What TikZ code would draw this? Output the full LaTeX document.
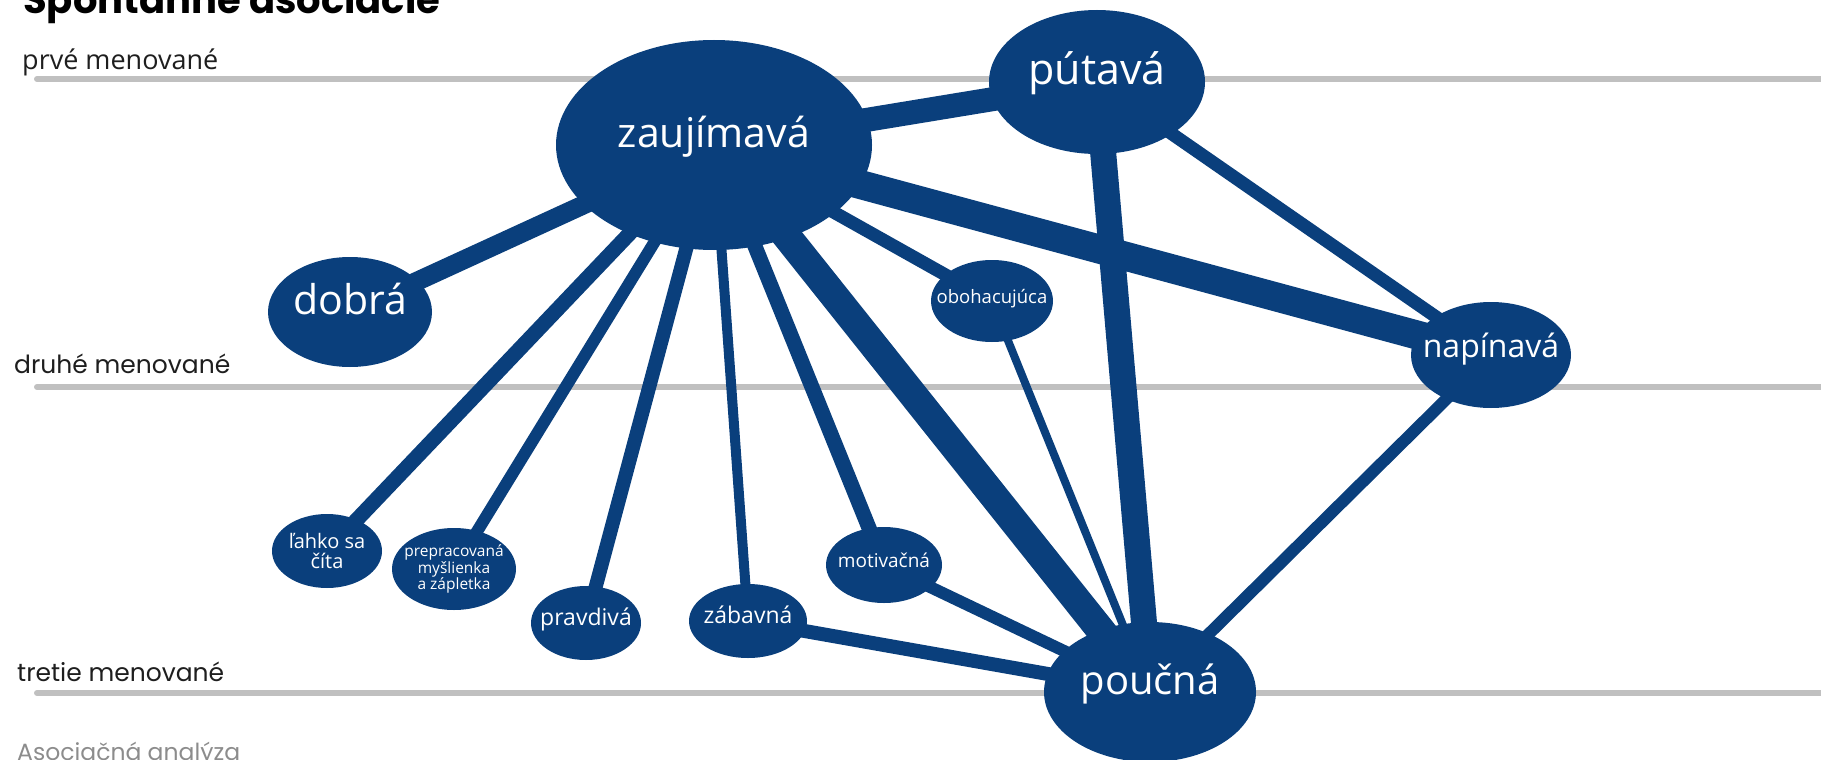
\documentclass[tikz,border=0pt]{standalone}
\usepackage{fontspec}
\setmainfont{Open Sans}
\newfontfamily\popp{Poppins}
\usetikzlibrary{shapes.geometric}
\definecolor{nodeblue}{RGB}{10,63,124}
\definecolor{gridgray}{RGB}{192,192,192}
\definecolor{labelgray}{RGB}{30,30,30}
\definecolor{footgray}{RGB}{140,140,140}
\pgfdeclarelayer{bg}
\pgfsetlayers{bg,main}
\newcommand{\fs}[1]{\fontsize{#1}{#1}\selectfont}
\begin{document}
\begin{tikzpicture}[x=1pt,y=-1pt,
  bubble/.style={ellipse, fill=nodeblue, draw=none, inner sep=0pt, outer sep=0pt},
  btext/.style={text=white, inner sep=0pt, align=center},
  onetext/.style={btext, text height=0.77em, text depth=0.24em},
  link/.style={draw=nodeblue, line cap=butt},
  level/.style={anchor=base west, inner sep=0pt, text=labelgray},
  gridline/.style={draw=gridgray, line width=6pt, line cap=round}]
\useasboundingbox (0,0) rectangle (1821,760);

% nodes
\node[bubble, minimum width=316pt, minimum height=210pt] (Z) at (714,145) {};
\node[onetext, font=\fs{41}] (Zt) at (Z) {zaujímavá};
\node[bubble, minimum width=216pt, minimum height=144pt] (P) at (1097,82) {};
\node[onetext, font=\fs{43}] (Pt) at (P) {pútavá};
\node[bubble, minimum width=164pt, minimum height=110pt] (D) at (350,312) {};
\node[onetext, font=\fs{41}] (Dt) at (D) {dobrá};
\node[bubble, minimum width=160pt, minimum height=106pt] (N) at (1491,355) {};
\node[onetext, font=\fs{32}] (Nt) at (N) {napínavá};
\node[bubble, minimum width=122pt, minimum height=82pt] (O) at (992,301) {};
\node[onetext, font=\fs{18.5}] (Ot) at (O) {obohacujúca};
\node[bubble, minimum width=110pt, minimum height=74pt] (L) at (327,551) {};
\node[btext, font=\fs{20}] (Lt) at (L) {ľahko sa\\číta};
\node[bubble, minimum width=124pt, minimum height=82pt] (Pr) at (454,569) {};
\node[btext, font=\fs{15.5}] (Prt) at (Pr) {prepracovaná\\myšlienka\\a zápletka};
\node[bubble, minimum width=110pt, minimum height=74pt] (Pv) at (586,623) {};
\node[onetext, font=\fs{23}] (Pvt) at (Pv) {pravdivá};
\node[bubble, minimum width=118pt, minimum height=74pt] (Zb) at (748,621) {};
\node[onetext, font=\fs{23}] (Zbt) at (Zb) {zábavná};
\node[bubble, minimum width=116pt, minimum height=76pt] (M) at (884,565) {};
\node[onetext, font=\fs{19}] (Mt) at (M) {motivačná};
\node[bubble, minimum width=212pt, minimum height=140pt] (Pc) at (1150,692) {};
\node[onetext, font=\fs{40}] (Pct) at (Pc) {poučná};

% grid lines and level labels
\coordinate (g1a) at (37,79);  \coordinate (g1b) at (1830,79);
\coordinate (g2a) at (37,387); \coordinate (g2b) at (1830,387);
\coordinate (g3a) at (37,693); \coordinate (g3b) at (1830,693);
\node[level, font=\fs{27}] (l1) at (22,70) {prvé menované};
\node[level, font=\popp\fs{25}] (l2) at (14,373) {druhé menované};
\node[level, font=\popp\fs{25}] (l3) at (17,681) {tretie menované};
\node[level, font=\popp\fs{23.5}, text=footgray] (foot) at (17,760) {Asociačná analýza};
\node[level, font=\popp\bfseries\fs{38.5}, text=black] (title) at (23,14) {Spontánne asociácie};

\begin{pgfonlayer}{bg}
  \draw[gridline] (g1a) -- (g1b);
  \draw[gridline] (g2a) -- (g2b);
  \draw[gridline] (g3a) -- (g3b);
  \draw[link, line width=24pt] (Z.center) -- (P.center);
  \draw[link, line width=29pt] (Z.center) -- (N.center);
  \draw[link, line width=29pt] (Z.center) -- (Pc.center);
  \draw[link, line width=19pt] (Z.center) -- (D.center);
  \draw[link, line width=15pt] (Z.center) -- (L.center);
  \draw[link, line width=12pt] (Z.center) -- (Pr.center);
  \draw[link, line width=14pt] (Z.center) -- (Pv.center);
  \draw[link, line width=10pt] (Z.center) -- (Zb.center);
  \draw[link, line width=15pt] (Z.center) -- (M.center);
  \draw[link, line width=13pt] (Z.center) -- (O.center);
  \draw[link, line width=26pt] (P.center) -- (Pc.center);
  \draw[link, line width=13pt] (P.center) -- (N.center);
  \draw[link, line width=12pt] (N.center) -- (Pc.center);
  \draw[link, line width=8pt] (O.center) -- (Pc.center);
  \draw[link, line width=12pt] (M.center) -- (Pc.center);
  \draw[link, line width=14pt] (Zb.center) -- (Pc.center);
\end{pgfonlayer}
\end{tikzpicture}
\end{document}
